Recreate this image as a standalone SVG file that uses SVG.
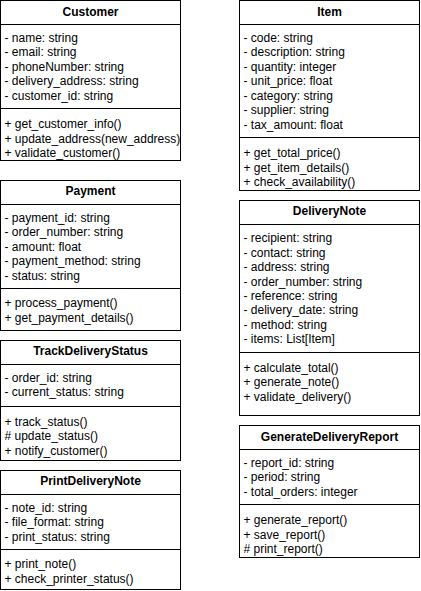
<svg xmlns="http://www.w3.org/2000/svg" width="421" height="591" viewBox="0 0 421 591">
  <style>
    .box { fill: #ffffff; stroke: #000000; stroke-width: 1; }
    .sep { stroke: #000000; stroke-width: 1; fill: none; }
    text { font-family: "Liberation Sans", Arial, Helvetica, sans-serif; font-size: 12px; fill: #000000; }
    .title { font-weight: bold; text-anchor: middle; }
  </style>
  <rect width="421" height="591" fill="#ffffff"/>

  <!-- Customer class -->
  <g id="customer">
    <rect class="box" x="0.5" y="0.5" width="180" height="160"/>
    <line class="sep" x1="0.5" y1="24.5" x2="180.5" y2="24.5"/>
    <line class="sep" x1="0.5" y1="108.5" x2="180.5" y2="108.5"/>
    <text class="title" x="90.5" y="15.7">Customer</text>
    <text x="4.5" y="41.7">- name: string</text>
    <text x="4.5" y="56.2">- email: string</text>
    <text x="4.5" y="70.7">- phoneNumber: string</text>
    <text x="4.5" y="85.2">- delivery_address: string</text>
    <text x="4.5" y="99.7">- customer_id: string</text>
    <text x="4.5" y="128">+ get_customer_info()</text>
    <text x="4.5" y="142.5">+ update_address(new_address)</text>
    <text x="4.5" y="157">+ validate_customer()</text>
  </g>

  <!-- Payment class -->
  <g id="payment">
    <rect class="box" x="0.5" y="180.5" width="180" height="150"/>
    <line class="sep" x1="0.5" y1="204.5" x2="180.5" y2="204.5"/>
    <line class="sep" x1="0.5" y1="288.5" x2="180.5" y2="288.5"/>
    <text class="title" x="90.5" y="194.5">Payment</text>
    <text x="4.5" y="221.5">- payment_id: string</text>
    <text x="4.5" y="236">- order_number: string</text>
    <text x="4.5" y="250.5">- amount: float</text>
    <text x="4.5" y="265">- payment_method: string</text>
    <text x="4.5" y="279.5">- status: string</text>
    <text x="4.5" y="307">+ process_payment()</text>
    <text x="4.5" y="321.5">+ get_payment_details()</text>
  </g>

  <!-- TrackDeliveryStatus class -->
  <g id="track-delivery-status">
    <rect class="box" x="0.5" y="340.5" width="180" height="120"/>
    <line class="sep" x1="0.5" y1="364.5" x2="180.5" y2="364.5"/>
    <line class="sep" x1="0.5" y1="406.5" x2="180.5" y2="406.5"/>
    <text class="title" x="90.5" y="354.5">TrackDeliveryStatus</text>
    <text x="4.5" y="381.5">- order_id: string</text>
    <text x="4.5" y="396">- current_status: string</text>
    <text x="4.5" y="425.5">+ track_status()</text>
    <text x="4.5" y="440"># update_status()</text>
    <text x="4.5" y="454.5">+ notify_customer()</text>
  </g>

  <!-- PrintDeliveryNote class -->
  <g id="print-delivery-note">
    <rect class="box" x="0.5" y="470.5" width="180" height="119"/>
    <line class="sep" x1="0.5" y1="494.5" x2="180.5" y2="494.5"/>
    <line class="sep" x1="0.5" y1="549.5" x2="180.5" y2="549.5"/>
    <text class="title" x="90.5" y="485">PrintDeliveryNote</text>
    <text x="4.5" y="511.5">- note_id: string</text>
    <text x="4.5" y="526">- file_format: string</text>
    <text x="4.5" y="540.5">- print_status: string</text>
    <text x="4.5" y="568">+ print_note()</text>
    <text x="4.5" y="582.5">+ check_printer_status()</text>
  </g>

  <!-- Item class -->
  <g id="item">
    <rect class="box" x="239.5" y="0.5" width="180" height="190"/>
    <line class="sep" x1="239.5" y1="24.5" x2="419.5" y2="24.5"/>
    <line class="sep" x1="239.5" y1="137.5" x2="419.5" y2="137.5"/>
    <text class="title" x="329.5" y="15.7">Item</text>
    <text x="243.5" y="41.5">- code: string</text>
    <text x="243.5" y="56">- description: string</text>
    <text x="243.5" y="70.5">- quantity: integer</text>
    <text x="243.5" y="85">- unit_price: float</text>
    <text x="243.5" y="99.5">- category: string</text>
    <text x="243.5" y="114">- supplier: string</text>
    <text x="243.5" y="128.5">- tax_amount: float</text>
    <text x="243.5" y="157">+ get_total_price()</text>
    <text x="243.5" y="171.5">+ get_item_details()</text>
    <text x="243.5" y="186">+ check_availability()</text>
  </g>

  <!-- DeliveryNote class -->
  <g id="delivery-note">
    <rect class="box" x="239.5" y="200.5" width="180" height="215"/>
    <line class="sep" x1="239.5" y1="224.5" x2="419.5" y2="224.5"/>
    <line class="sep" x1="239.5" y1="352.5" x2="419.5" y2="352.5"/>
    <text class="title" x="329.5" y="215">DeliveryNote</text>
    <text x="243.5" y="242.3">- recipient: string</text>
    <text x="243.5" y="256.7">- contact: string</text>
    <text x="243.5" y="271.1">- address: string</text>
    <text x="243.5" y="285.5">- order_number: string</text>
    <text x="243.5" y="299.9">- reference: string</text>
    <text x="243.5" y="314.3">- delivery_date: string</text>
    <text x="243.5" y="328.7">- method: string</text>
    <text x="243.5" y="343.1">- items: List[Item]</text>
    <text x="243.5" y="371.7">+ calculate_total()</text>
    <text x="243.5" y="386">+ generate_note()</text>
    <text x="243.5" y="400.5">+ validate_delivery()</text>
  </g>

  <!-- GenerateDeliveryReport class -->
  <g id="generate-delivery-report">
    <rect class="box" x="239.5" y="425.5" width="180" height="132"/>
    <line class="sep" x1="239.5" y1="449.5" x2="419.5" y2="449.5"/>
    <line class="sep" x1="239.5" y1="504.5" x2="419.5" y2="504.5"/>
    <text class="title" x="329.5" y="440.5">GenerateDeliveryReport</text>
    <text x="243.5" y="466.5">- report_id: string</text>
    <text x="243.5" y="481">- period: string</text>
    <text x="243.5" y="495.5">- total_orders: integer</text>
    <text x="243.5" y="524">+ generate_report()</text>
    <text x="243.5" y="538.5">+ save_report()</text>
    <text x="243.5" y="553"># print_report()</text>
  </g>
</svg>
